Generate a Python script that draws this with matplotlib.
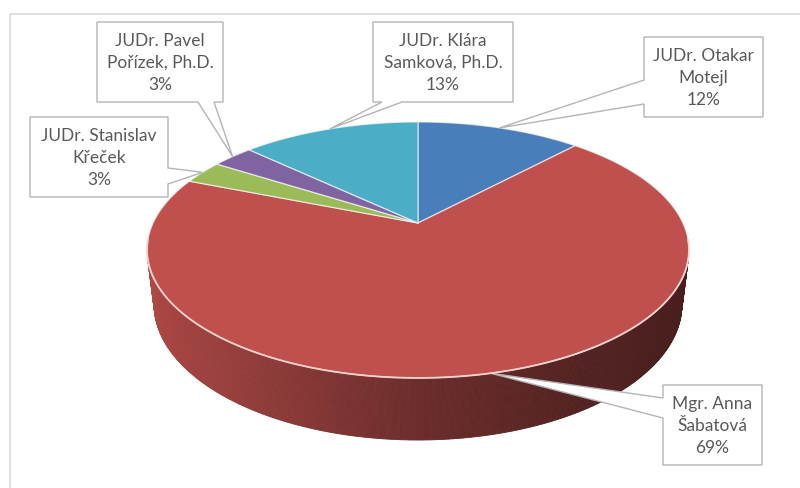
import numpy as np
import matplotlib
matplotlib.use("Agg")
import matplotlib.pyplot as plt
from matplotlib.patches import Polygon, Rectangle
from matplotlib.collections import PolyCollection
from matplotlib.colors import to_rgb

plt.rcParams["font.family"] = ["Lato", "DejaVu Sans"]

names = ["JUDr. Otakar\nMotejl", "Mgr. Anna\nŠabatová", "JUDr. Stanislav\nKřeček",
         "JUDr. Pavel\nPořízek, Ph.D.", "JUDr. Klára\nSamková, Ph.D."]
shares = [12, 69, 3, 3, 13]
colors = ["#4a7ebb", "#c0504d", "#9bbb59", "#8064a2", "#4badc6"]

# callout boxes: (left, top, width, height), side carrying the pointer, pointer base span
boxes = [
    ((644, 37, 119, 80), "left", (80, 104)),
    ((663, 385, 99, 80), "left", (398, 418)),
    ((30, 117, 138, 80), "right", (168, 184)),
    ((97, 22, 126, 80), "bottom", (198, 214)),
    ((373, 22, 140, 80), "bottom", (382, 402)),
]

# simple perspective camera for the 3D pie (pixel space)
CX, CY = 418, 223
FOC = 1116.0
DIST = 4.213
TILT = np.radians(27.5)
SIN, COS = np.sin(TILT), np.cos(TILT)
HEIGHT = 0.232


def proj(theta, r=1.0, z=0.0):
    t = np.radians(theta)
    X = r * np.sin(t)
    Y = r * np.cos(t)
    yv = Y * SIN + z * COS
    depth = DIST + Y * COS - z * SIN
    return CX + FOC * X / depth, CY - FOC * yv / depth


def shade(hex_color, x):
    # side shading: lighter on the left, dark on the right
    k = np.interp(x, [-1, -0.5, 0, 0.5, 1], [0.92, 0.75, 0.56, 0.43, 0.37])
    return tuple(np.array(to_rgb(hex_color)) * k)


fig = plt.figure(figsize=(8, 4.88), dpi=100)
ax = fig.add_axes([0, 0, 1, 1])
ax.set_xlim(0, 800)
ax.set_ylim(488, 0)
ax.axis("off")

ax.add_patch(Rectangle((9.5, 13.5), 800, 500, fill=False, edgecolor="#d9d9d9", lw=1.2))

# wedge angles, clockwise from 12 o'clock
total = float(sum(shares))
edges = np.concatenate([[0], np.cumsum(shares)]) / total * 360.0

# side wall (only the part facing the camera)
limit = np.degrees(np.arccos(-1.0 / (DIST * COS)))
thetas = np.linspace(limit, 360 - limit, 400)
strips, strip_cols = [], []
for a, b in zip(thetas[:-1], thetas[1:]):
    m = 0.5 * (a + b)
    idx = np.searchsorted(edges, m) - 1
    x1, y1 = proj(a)
    x2, y2 = proj(b)
    x3, y3 = proj(b, z=-HEIGHT)
    x4, y4 = proj(a, z=-HEIGHT)
    strips.append([(x1, y1), (x2, y2), (x3, y3), (x4, y4)])
    strip_cols.append(shade(colors[idx], np.sin(np.radians(m))))
ax.add_collection(PolyCollection(strips, facecolors=strip_cols, edgecolors=strip_cols, linewidths=0.6))

# top faces
for i in range(len(shares)):
    arc = np.linspace(edges[i], edges[i + 1], max(4, int(shares[i] * 6)))
    px, py = proj(arc)
    pts = [(CX, CY)] + list(zip(px, py))
    ax.add_patch(Polygon(pts, closed=True, facecolor=colors[i],
                         edgecolor=(1, 1, 1, 0.65), lw=0.9, joinstyle="round"))

# light bevel along the front rim
rim = np.linspace(limit - 8, 360 - limit + 8, 200)
rx, ry = proj(rim)
ax.plot(rx, ry, color="#f6d2cc", lw=1.3)

# callouts
for i, ((l, t, w, h), side, (b0, b1)) in enumerate(boxes):
    mid = 0.5 * (edges[i] + edges[i + 1])
    tip = proj(mid)
    r, btm = l + w, t + h
    if side == "left":
        pts = [(l, t), (r, t), (r, btm), (l, btm), (l, b1), tip, (l, b0)]
    elif side == "right":
        pts = [(l, t), (r, t), (r, b0), tip, (r, b1), (r, btm), (l, btm)]
    else:
        pts = [(l, t), (r, t), (r, btm), (b1, btm), tip, (b0, btm), (l, btm)]
    ax.add_patch(Polygon(pts, closed=True, facecolor="white", edgecolor="#b4b4b4", lw=1.0))
    ax.text(l + w / 2, t + h / 2 + 1, f"{names[i]}\n{shares[i]}%", ha="center", va="center",
            fontsize=12.5, color="#595959", linespacing=1.45)

fig.savefig("out.png", dpi=100)
